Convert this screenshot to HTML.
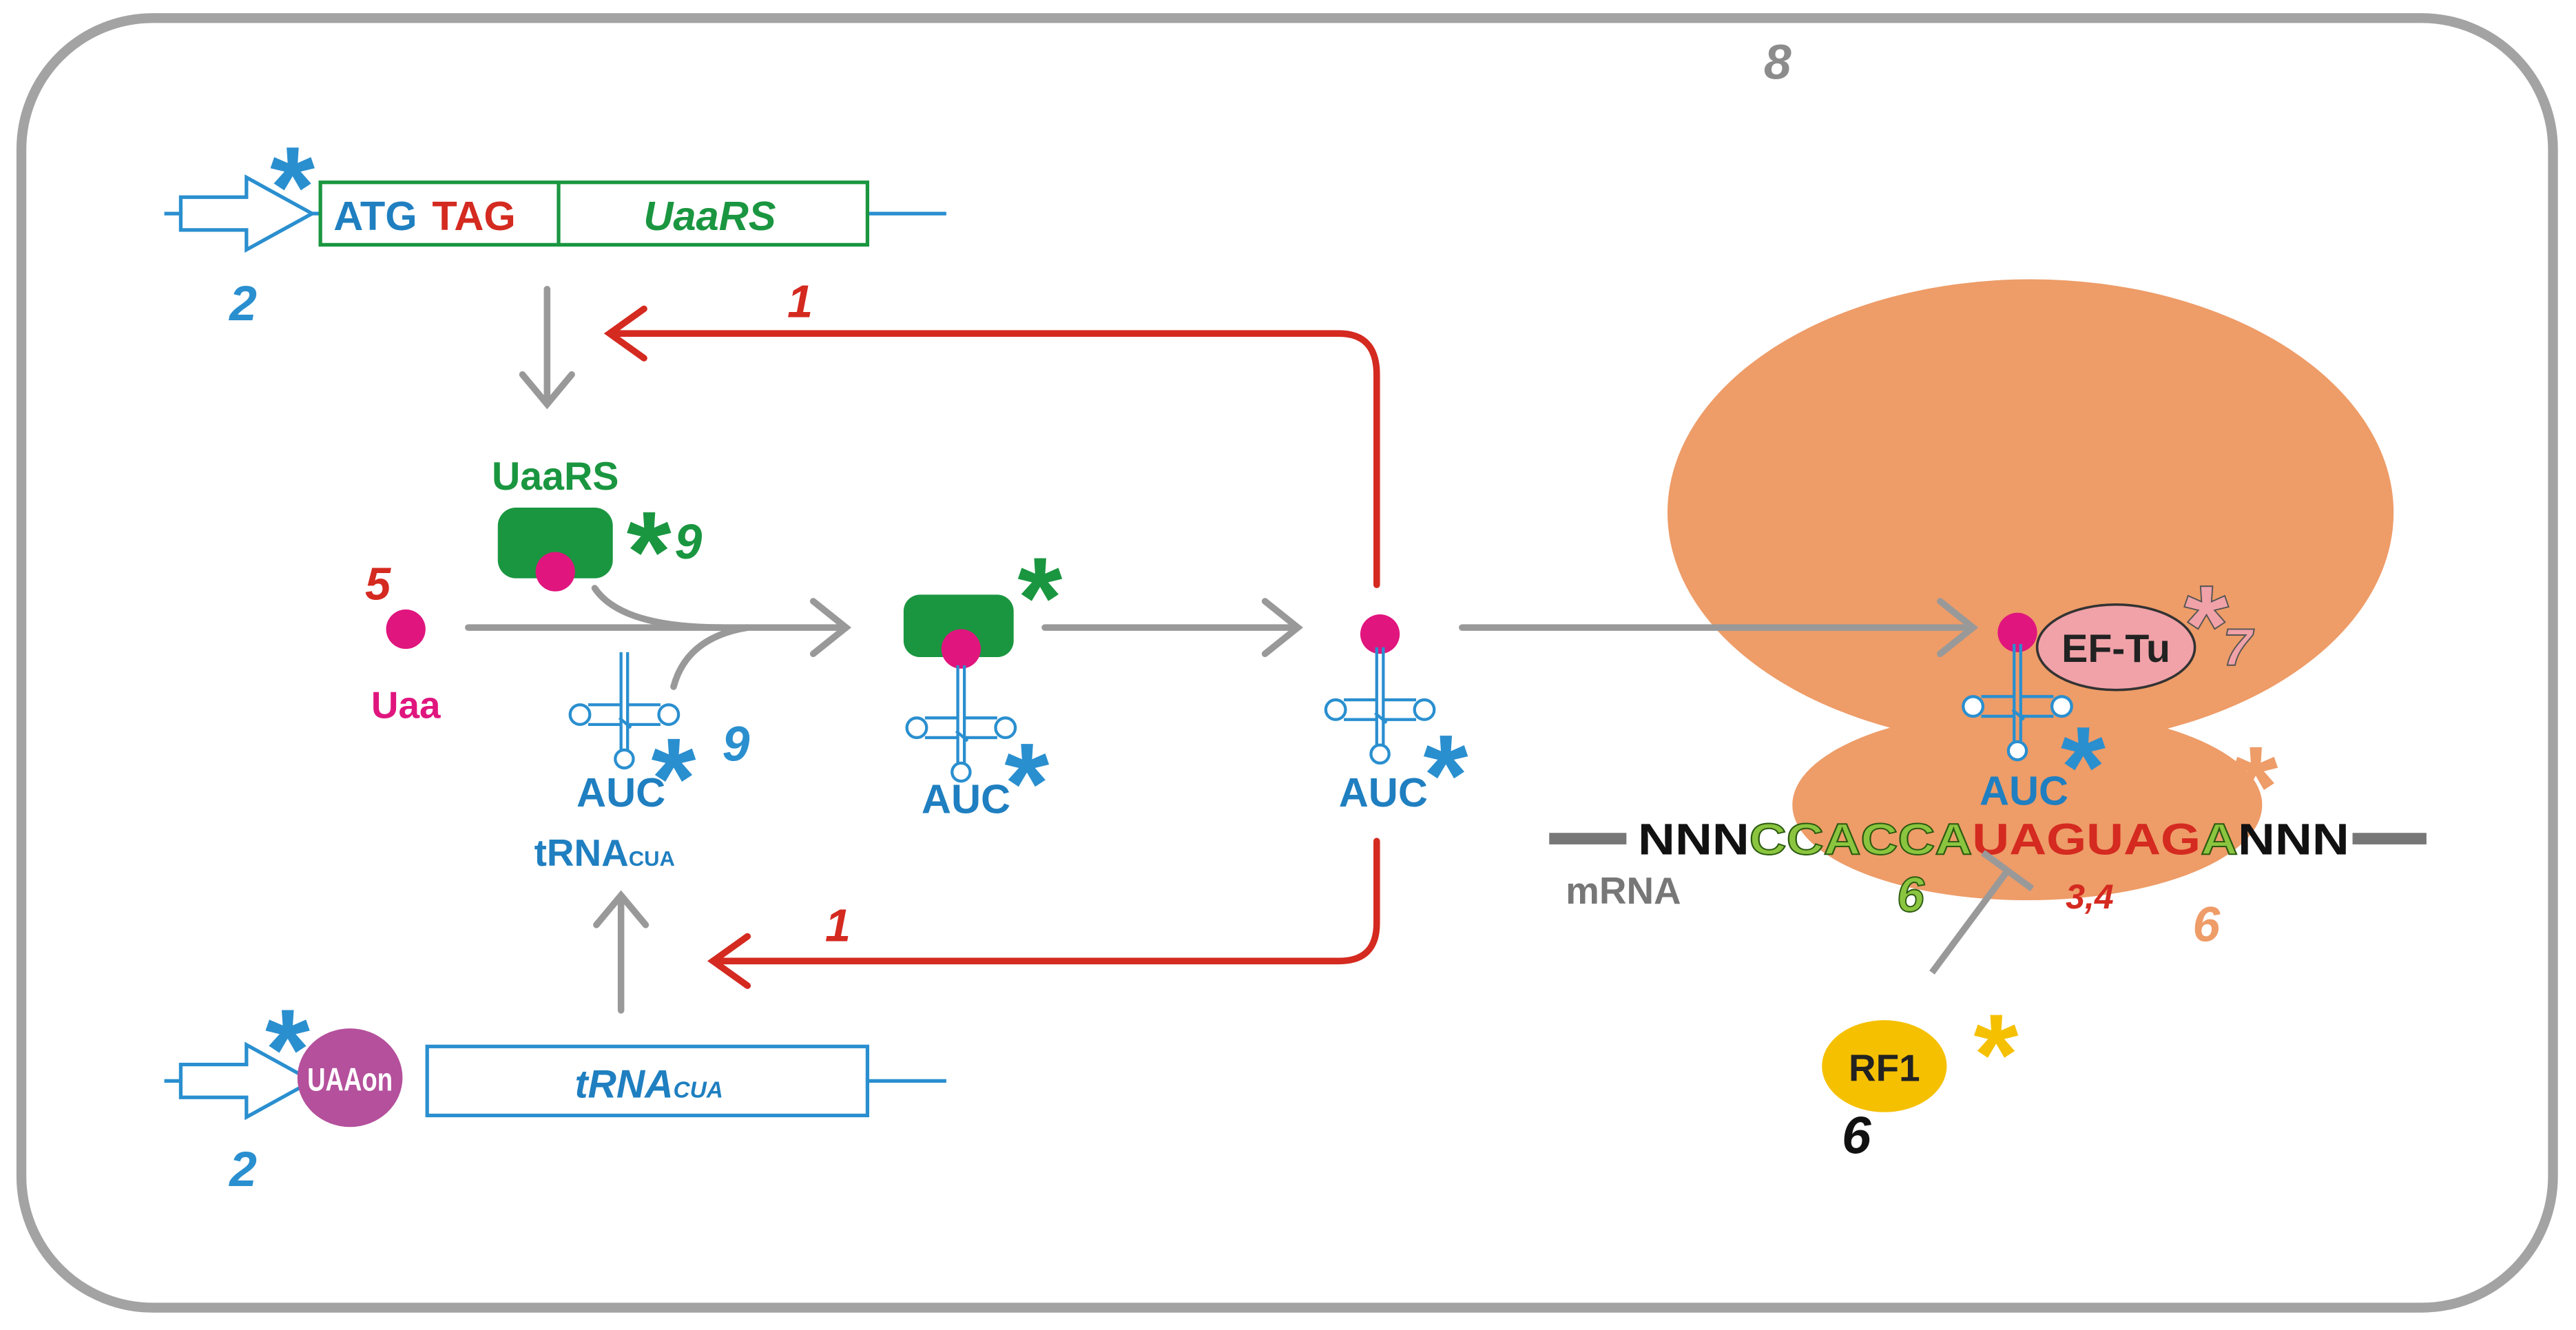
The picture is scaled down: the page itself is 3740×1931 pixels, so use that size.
<!DOCTYPE html>
<html><head><meta charset="utf-8"><style>
html,body{margin:0;padding:0;background:#fff;}
svg{display:block;}
text{font-family:"Liberation Sans",sans-serif;font-weight:bold;}
</style></head><body>
<svg width="3740" height="1931" viewBox="0 0 1568 809.6" xmlns="http://www.w3.org/2000/svg">
<defs>
<g id="trna" fill="none" stroke="#2a8fcf" stroke-width="1.8">
  <path d="M-2,-38 V-6 H-22 M2,-38 V-6 H22 M-2,6 H-22 M2,6 H22 M-2,6 V22 M2,6 V22 M-2,-6 V6 M2,-6 L2,6" />
  <circle cx="-27" cy="0" r="6" fill="#fff"/>
  <circle cx="27" cy="0" r="6" fill="#fff"/>
  <circle cx="0" cy="27" r="5.5" fill="#fff"/>
  <path d="M-3,2 L4,8" />
</g>
</defs>
<rect x="13" y="11" width="1541" height="785" rx="80" fill="#fff" stroke="#a3a3a3" stroke-width="6"/>
<text x="1082" y="48" font-size="30" font-style="italic" fill="#8c8c8c" text-anchor="middle">8</text>

<!-- top gene -->
<g stroke="#2a8fcf" stroke-width="2.2" fill="none">
<line x1="100" y1="130" x2="110" y2="130"/><line x1="190" y1="130" x2="195" y2="130"/>
<line x1="528" y1="130" x2="576" y2="130"/>
<path d="M110,120 H150 V108 L190,130 L150,152 V140 H110 Z" fill="#fff"/>
<line x1="100" y1="658" x2="110" y2="658"/><line x1="528" y1="658" x2="576" y2="658"/>
<path d="M110,648 H150 V636 L190,658 L150,680 V668 H110 Z" fill="#fff"/>
<rect x="260" y="637" width="268" height="42" fill="#fff"/>
</g>
<rect x="195" y="111" width="333" height="38" fill="#fff" stroke="#1a9640" stroke-width="2.2"/>
<line x1="340" y1="111" x2="340" y2="149" stroke="#1a9640" stroke-width="2.2"/>
<text x="203" y="140" font-size="25" fill="#1f7fc0">ATG</text>
<text x="263" y="140" font-size="25" fill="#d42a20">TAG</text>
<text x="432" y="140" font-size="25" font-style="italic" fill="#1a9640" text-anchor="middle">UaaRS</text>
<text x="178" y="138" font-size="70" fill="#2a8fcf" text-anchor="middle">*</text>
<text x="148" y="195" font-size="30" font-style="italic" fill="#2a8fcf" text-anchor="middle">2</text>

<ellipse cx="213" cy="656" rx="32" ry="30" fill="#b4509c"/>
<text x="213" y="664" font-size="20" fill="#fff" text-anchor="middle" textLength="52" lengthAdjust="spacingAndGlyphs">UAAon</text>
<text x="395" y="668" font-size="24" font-style="italic" fill="#1f7fc0" text-anchor="middle">tRNA<tspan font-size="14">CUA</tspan></text>
<text x="175" y="663" font-size="70" fill="#2a8fcf" text-anchor="middle">*</text>
<text x="148" y="722" font-size="30" font-style="italic" fill="#2a8fcf" text-anchor="middle">2</text>

<!-- ribosome -->
<ellipse cx="1236" cy="312" rx="221" ry="142" fill="#ee9c68"/>
<ellipse cx="1234" cy="490" rx="143" ry="58" fill="#ee9c68"/>

<!-- gray arrows -->
<g stroke="#999" stroke-width="4" fill="none" stroke-linecap="round">
<line x1="333" y1="176" x2="333" y2="245"/><path d="M318,228 L333,246 L348,228"/>
<line x1="378" y1="615" x2="378" y2="546"/><path d="M363,563 L378,545 L393,563"/>
<line x1="285" y1="382" x2="514" y2="382"/><path d="M495,366 L515,382 L495,398"/>
<path d="M362,358 Q378,382 440,382"/><path d="M410,418 Q418,388 455,382"/>
<line x1="636" y1="382" x2="789" y2="382"/><path d="M770,366 L790,382 L770,398"/>
<line x1="890" y1="382" x2="1200" y2="382"/><path d="M1181,366 L1201,382 L1181,398"/>
</g>

<!-- red loops -->
<g stroke="#d42a20" stroke-width="4" fill="none" stroke-linecap="round">
<path d="M838,356 V228 Q838,203 815,203 H372"/><path d="M392,188 L371,203 L392,218"/>
<path d="M838,512 V562 Q838,585 815,585 H434"/><path d="M455,570 L434,585 L455,600"/>
</g>
<text x="487" y="193" font-size="28" font-style="italic" fill="#d42a20" text-anchor="middle">1</text>
<text x="510" y="573" font-size="28" font-style="italic" fill="#d42a20" text-anchor="middle">1</text>

<!-- first stage -->
<text x="338" y="298" font-size="24" fill="#1a9640" text-anchor="middle">UaaRS</text>
<rect x="303" y="309" width="70" height="43" rx="11" fill="#1a9640"/>
<circle cx="338" cy="348" r="12" fill="#e0157e"/>
<text x="395" y="360" font-size="70" fill="#1a9640" text-anchor="middle">*</text>
<text x="419" y="340" font-size="30" font-style="italic" fill="#1a9640" text-anchor="middle">9</text>
<text x="230" y="365" font-size="28" font-style="italic" fill="#d42a20" text-anchor="middle">5</text>
<circle cx="247" cy="383" r="12" fill="#e0157e"/>
<text x="247" y="437" font-size="23" fill="#e0157e" text-anchor="middle">Uaa</text>
<use href="#trna" x="380" y="435"/>
<text x="410" y="498" font-size="70" fill="#2a8fcf" text-anchor="middle">*</text>
<text x="448" y="463" font-size="30" font-style="italic" fill="#2a8fcf" text-anchor="middle">9</text>
<text x="378" y="491" font-size="25" fill="#1f7fc0" text-anchor="middle">AUC</text>
<text x="368" y="527" font-size="23" fill="#1f7fc0" text-anchor="middle">tRNA<tspan font-size="13">CUA</tspan></text>

<!-- second stage -->
<rect x="550" y="362" width="67" height="38" rx="10" fill="#1a9640"/>
<circle cx="585" cy="395" r="12" fill="#e0157e"/>
<use href="#trna" x="585" y="443"/>
<text x="633" y="388" font-size="70" fill="#1a9640" text-anchor="middle">*</text>
<text x="625" y="501" font-size="70" fill="#2a8fcf" text-anchor="middle">*</text>
<text x="588" y="495" font-size="25" fill="#1f7fc0" text-anchor="middle">AUC</text>

<!-- third stage -->
<circle cx="840" cy="386" r="12" fill="#e0157e"/>
<use href="#trna" x="840" y="432"/>
<text x="880" y="496" font-size="70" fill="#2a8fcf" text-anchor="middle">*</text>
<text x="842" y="491" font-size="25" fill="#1f7fc0" text-anchor="middle">AUC</text>

<!-- ribosome contents -->
<circle cx="1228" cy="385" r="12" fill="#e0157e"/>
<ellipse cx="1288" cy="394" rx="48" ry="26" fill="#f0a2a8" stroke="#333" stroke-width="1.5"/>
<text x="1288" y="403" font-size="24" fill="#222" text-anchor="middle">EF-Tu</text>
<text x="1343" y="405" font-size="70" fill="#f0a2a8" stroke="#555" stroke-width="0.8" font-weight="normal" text-anchor="middle">*</text>
<text x="1362" y="405" font-size="32" font-style="italic" fill="#f0a2a8" stroke="#555" stroke-width="0.8" text-anchor="middle">7</text>
<use href="#trna" x="1228" y="430"/>
<text x="1268" y="491" font-size="70" fill="#2a8fcf" text-anchor="middle">*</text>
<text x="1232" y="490" font-size="25" fill="#1f7fc0" text-anchor="middle">AUC</text>
<text x="1373" y="503" font-size="70" fill="#ee9c68" text-anchor="middle">*</text>

<!-- mRNA -->
<rect x="943" y="507" width="47" height="7" fill="#777"/>
<rect x="1432" y="507" width="45" height="7" fill="#777"/>
<text x="997" y="520" font-size="27" textLength="433" lengthAdjust="spacingAndGlyphs"><tspan fill="#111">NNN</tspan><tspan fill="#8bc53f" stroke="#2a5a10" stroke-width="0.8">CCACCA</tspan><tspan fill="#d42a20">UAGUAG</tspan><tspan fill="#8bc53f" stroke="#2a5a10" stroke-width="0.8">A</tspan><tspan fill="#111">NNN</tspan></text>
<text x="953" y="550" font-size="23" fill="#777">mRNA</text>
<text x="1163" y="555" font-size="30" font-style="italic" fill="#8bc53f" stroke="#2a5a10" stroke-width="0.8" text-anchor="middle">6</text>
<text x="1272" y="553" font-size="21" font-style="italic" fill="#d42a20" text-anchor="middle">3,4</text>
<text x="1343" y="573" font-size="30" font-style="italic" fill="#ee9c68" text-anchor="middle">6</text>

<!-- RF1 -->
<g stroke="#999" stroke-width="4" fill="none">
<line x1="1176" y1="592" x2="1222" y2="530"/>
<line x1="1207" y1="519" x2="1237" y2="541"/>
</g>
<ellipse cx="1147" cy="649" rx="38" ry="28" fill="#f5c000"/>
<text x="1147" y="658" font-size="23" fill="#222" text-anchor="middle">RF1</text>
<text x="1215" y="666" font-size="70" fill="#f5c000" text-anchor="middle">*</text>
<text x="1130" y="702" font-size="32" font-style="italic" fill="#111" text-anchor="middle">6</text>
</svg>
</body></html>
